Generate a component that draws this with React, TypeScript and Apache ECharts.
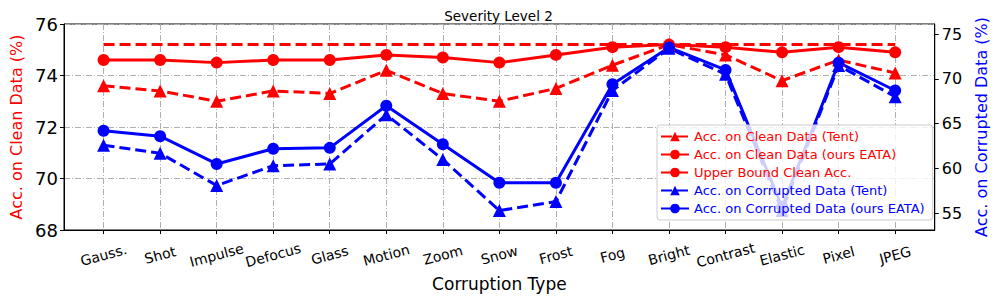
import React, { useEffect, useRef } from "react";
import * as echarts from "echarts";

const categories = ["Gauss.", "Shot", "Impulse", "Defocus", "Glass", "Motion", "Zoom", "Snow", "Frost", "Fog", "Bright", "Contrast", "Elastic", "Pixel", "JPEG"];
const cleanTent = [73.6, 73.4, 73.0, 73.4, 73.3, 74.2, 73.3, 73.0, 73.5, 74.4, 75.2, 74.8, 73.8, 74.6, 74.1];
const cleanEata = [74.6, 74.6, 74.5, 74.6, 74.6, 74.8, 74.7, 74.5, 74.8, 75.1, 75.2, 75.1, 74.9, 75.1, 74.9];
const upperBound = [75.2, 75.2, 75.2, 75.2, 75.2, 75.2, 75.2, 75.2, 75.2, 75.2, 75.2, 75.2, 75.2, 75.2, 75.2];
const corrTent = [62.6, 61.7, 58.1, 60.3, 60.5, 66.0, 61.0, 55.3, 56.3, 68.7, 73.4, 70.5, 55.3, 71.5, 68.0];
const corrEata = [64.2, 63.6, 60.5, 62.2, 62.3, 67.0, 62.7, 58.4, 58.4, 69.4, 73.5, 71.0, 55.7, 71.8, 68.7];
const leftTicks = [68, 70, 72, 74, 76];
const rightTicks = [55, 60, 65, 70, 75];

const RED = "#ff0000";
const BLUE = "#0000ff";
const FONT = "DejaVu Sans";

const pairs = (arr: number[]) => arr.map((v, i) => [i, v]);
const idx = categories.map((_, i) => i);

export default function App() {
  const ref = useRef<HTMLDivElement>(null);
  useEffect(() => {
    if (!ref.current) return;
    const chart = echarts.init(ref.current, null, { renderer: "svg" });
    const dash = [11, 5];
    chart.setOption({
      animation: false,
      textStyle: { fontFamily: FONT },
      title: {
        text: "Severity Level 2",
        left: "center",
        top: 4,
        textStyle: { fontFamily: FONT, fontSize: 13.5, fontWeight: "normal", color: "#000" },
      },
      grid: {
        left: 57,
        right: 57,
        top: 24,
        bottom: 69,
        show: true,
        borderColor: "#000",
        borderWidth: 1,
        backgroundColor: "transparent",
      },
      legend: {
        orient: "vertical",
        left: 657,
        top: 125,
        z: 20,
        zlevel: 1,
        padding: [5, 8, 5, 3],
        itemWidth: 28,
        itemHeight: 12,
        itemGap: 5,
        backgroundColor: "rgba(255,255,255,0.8)",
        borderColor: "#cccccc",
        borderWidth: 1,
        borderRadius: 3,
        textStyle: { fontFamily: FONT, fontSize: 13 },
        data: [
          { name: "Acc. on Clean Data (Tent)", textStyle: { color: RED } },
          { name: "Acc. on Clean Data (ours EATA)", textStyle: { color: RED } },
          { name: "Upper Bound Clean Acc.", textStyle: { color: RED } },
          { name: "Acc. on Corrupted Data (Tent)", textStyle: { color: BLUE } },
          { name: "Acc. on Corrupted Data (ours EATA)", textStyle: { color: BLUE } },
        ],
      },
      xAxis: {
        type: "value",
        min: -0.7,
        max: 14.7,
        name: "Corruption Type",
        nameLocation: "middle",
        nameGap: 51,
        nameTextStyle: { fontFamily: FONT, fontSize: 17, color: "#000", verticalAlign: "middle" },
        axisLine: { show: true, onZero: false, lineStyle: { color: "#000", width: 1 } },
        axisTick: { show: true, length: 4, customValues: idx, lineStyle: { color: "#000" } },
        axisLabel: {
          customValues: idx,
          formatter: (v: number) => categories[Math.round(v)] ?? "",
          rotate: 15,
          align: "center",
          verticalAlign: "middle",
          margin: 25,
          fontFamily: FONT,
          fontSize: 14,
          color: "#000",
        },
        splitLine: { show: true, lineStyle: { color: "#b0b0b0", width: 1, type: [6, 2, 1, 2] } },
      },
      yAxis: [
        {
          type: "value",
          min: 68,
          max: 76,
          interval: 2,
          name: "Acc. on Clean Data (%)",
          nameLocation: "middle",
          nameGap: 40,
          nameRotate: 90,
          nameTextStyle: { fontFamily: FONT, fontSize: 16, color: RED },
          axisLine: { show: true, onZero: false, lineStyle: { color: "#000", width: 1 } },
          axisTick: { show: true, length: 4, lineStyle: { color: "#000" } },
          axisLabel: { customValues: leftTicks, margin: 6, fontFamily: FONT, fontSize: 18, color: "#000" },
          splitLine: { show: true, lineStyle: { color: "#b0b0b0", width: 1, type: [6, 2, 1, 2] } },
        },
        {
          type: "value",
          min: 53.13,
          max: 76.12,
          position: "right",
          name: "Acc. on Corrupted Data (%)",
          nameLocation: "middle",
          nameGap: 37,
          nameRotate: 90,
          nameTextStyle: { fontFamily: FONT, fontSize: 16, color: BLUE },
          axisLine: { show: true, onZero: false, lineStyle: { color: "#000", width: 1 } },
          axisTick: { show: true, length: 4, customValues: rightTicks, lineStyle: { color: "#000" } },
          axisLabel: { customValues: rightTicks, margin: 7, fontFamily: FONT, fontSize: 16, color: "#000" },
          splitLine: { show: false },
        },
      ],
      series: [
        {
          name: "Acc. on Clean Data (Tent)",
          type: "line",
          yAxisIndex: 0,
          data: pairs(cleanTent),
          symbol: "triangle",
          symbolSize: 13,
          itemStyle: { color: RED },
          lineStyle: { color: RED, width: 3, type: dash },
        },
        {
          name: "Acc. on Clean Data (ours EATA)",
          type: "line",
          yAxisIndex: 0,
          data: pairs(cleanEata),
          symbol: "circle",
          symbolSize: 12,
          itemStyle: { color: RED },
          lineStyle: { color: RED, width: 3 },
        },
        {
          name: "Upper Bound Clean Acc.",
          type: "line",
          yAxisIndex: 0,
          data: pairs(upperBound),
          symbol: "none",
          itemStyle: { color: RED },
          lineStyle: { color: RED, width: 3, type: dash },
        },
        {
          name: "Acc. on Corrupted Data (Tent)",
          type: "line",
          yAxisIndex: 1,
          data: pairs(corrTent),
          symbol: "triangle",
          symbolSize: 13,
          itemStyle: { color: BLUE },
          lineStyle: { color: BLUE, width: 3, type: dash },
        },
        {
          name: "Acc. on Corrupted Data (ours EATA)",
          type: "line",
          yAxisIndex: 1,
          data: pairs(corrEata),
          symbol: "circle",
          symbolSize: 12,
          itemStyle: { color: BLUE },
          lineStyle: { color: BLUE, width: 3 },
        },
      ],
    });
    return () => chart.dispose();
  }, []);
  return <div ref={ref} style={{ width: 997, height: 299, position: "absolute", left: 0, top: 0 }} />;
}
